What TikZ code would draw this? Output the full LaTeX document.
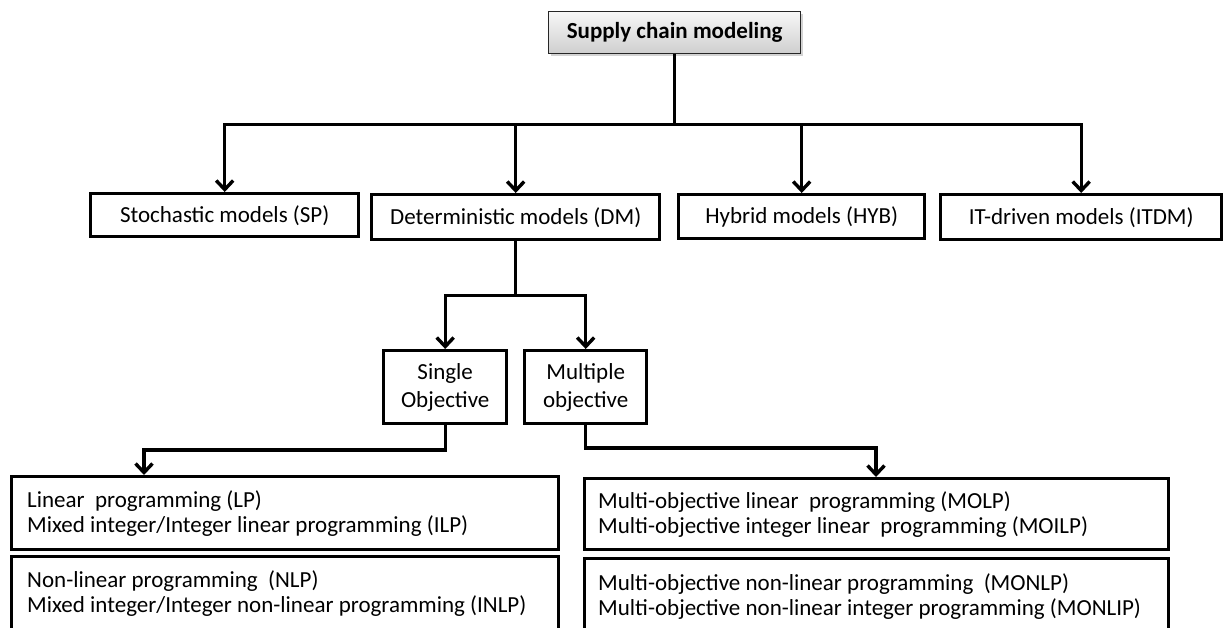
\documentclass[tikz,border=0pt]{standalone}
\usepackage{fontspec}
\setmainfont{Carlito}
\usetikzlibrary{arrows.meta,shadows,calc}

\tikzset{
  x=1pt, y=1pt,
  catbox/.style={draw=black, line width=3.4pt, rectangle, inner sep=0pt,
    anchor=north west, align=center,
    font=\fontsize{23pt}{28pt}\selectfont},
  listbox/.style={draw=black, line width=3.4pt, rectangle, anchor=north west,
    inner sep=0pt},
  listtext/.style={anchor=west, inner sep=0pt, align=left,
    font=\fontsize{23pt}{25pt}\selectfont},
  rootbox/.style={draw=black!85, line width=1.3pt, rectangle, inner sep=0pt,
    anchor=north west, top color=gray!6, bottom color=gray!38,
    drop shadow={opacity=0.35, shadow xshift=2pt, shadow yshift=-2pt},
    font=\fontsize{23pt}{28pt}\selectfont\bfseries},
  link/.style={line width=3.4pt, line join=miter},
  arrowlink/.style={link, -{Straight Barb[length=9pt,width=17pt]}},
}

\begin{document}
\begin{tikzpicture}
\useasboundingbox (0,0) rectangle (1229,-627);
\clip (0,0) rectangle (1229,-627);

% root
\node[rootbox, minimum width=252pt, minimum height=42pt] (root) at (548,-11) {Supply chain modeling};

% model families
\node[catbox, minimum width=268pt, minimum height=43pt] (sp)   at (89,-192)  {Stochastic models (SP)};
\node[catbox, minimum width=288pt, minimum height=45pt] (dm)   at (370,-193) {Deterministic models (DM)};
\node[catbox, minimum width=246pt, minimum height=44pt] (hyb)  at (677,-193) {Hybrid models (HYB)};
\node[catbox, minimum width=281pt, minimum height=45pt] (itdm) at (939,-193) {IT-driven models (ITDM)};

% objectives
\node[catbox, minimum width=123pt, minimum height=73pt] (single) at (382,-349) {Single\\Objective};
\node[catbox, minimum width=122pt, minimum height=73pt] (multi)  at (523,-349) {Multiple\\objective};

% programming classes: frames
\node[listbox, minimum width=547pt, minimum height=73pt] (lp)    at (10,-475)  {};
\node[listbox, minimum width=547pt, minimum height=74pt] (nlp)   at (10,-555)  {};
\node[listbox, minimum width=584pt, minimum height=71pt] (molp)  at (583,-477) {};
\node[listbox, minimum width=584pt, minimum height=73pt] (monlp) at (583,-557) {};

% programming classes: contents
\node[listtext] (lptext) at ($(lp.west)+(17,0)$)
  {Linear\ \ programming (LP)\\Mixed integer/Integer linear programming (ILP)};
\node[listtext] (nlptext) at ($(nlp.west)+(17,0)$)
  {Non-linear programming\ \ (NLP)\\Mixed integer/Integer non-linear programming (INLP)};
\node[listtext] (molptext) at ($(molp.west)+(15,0)$)
  {Multi-objective linear\ \ programming (MOLP)\\Multi-objective integer linear\ \ programming (MOILP)};
\node[listtext] (monlptext) at ($(monlp.west)+(15,-1)$)
  {Multi-objective non-linear programming\ \ (MONLP)\\Multi-objective non-linear integer programming (MONLIP)};

% root to model families
\coordinate (bus) at ($(root.south)+(0,-70)$);
\draw[link] (root.south) -- (bus);
\draw[arrowlink] (bus) -| (sp.north);
\draw[arrowlink] (bus) -| (itdm.north);
\draw[arrowlink] (bus -| dm.north) -- (dm.north);
\draw[arrowlink] (bus -| hyb.north) -- (hyb.north);

% deterministic to objectives
\coordinate (dmbus) at ($(dm.south)+(0,-54)$);
\draw[link] (dm.south) -- (dmbus);
\draw[arrowlink] (dmbus) -| (single.north);
\draw[arrowlink] (dmbus) -| (multi.north);

% objectives to programming classes
\coordinate (lpin) at ($(lp.north west)+(134,0)$);
\coordinate (molpin) at ($(molp.north west)+(293,0)$);
\draw[arrowlink] (single.south) |- ($(lpin)+(0,25)$) -- (lpin);
\draw[arrowlink] (multi.south) |- ($(molpin)+(0,29)$) -- (molpin);
\end{tikzpicture}
\end{document}
